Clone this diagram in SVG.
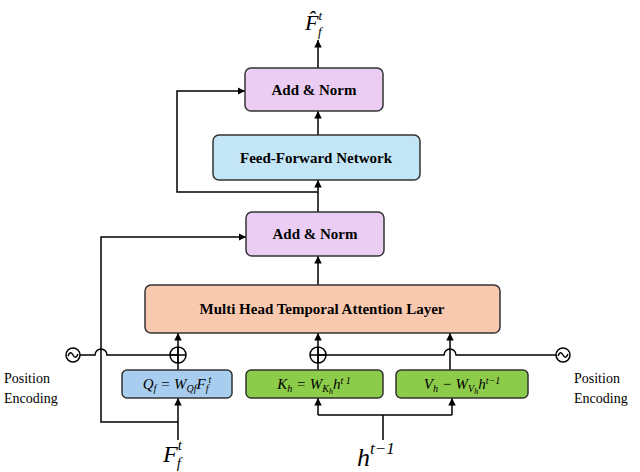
<svg xmlns="http://www.w3.org/2000/svg" width="640" height="472" viewBox="0 0 640 472" font-family="Liberation Serif, Times New Roman, DejaVu Serif, serif">
<defs>
<marker id="a" viewBox="0 0 10 10" refX="10" refY="5" markerWidth="5" markerHeight="5" orient="auto"><path d="M0,0L10,5L0,10z" fill="#000"/></marker>
<style>
.b{stroke:#333;stroke-width:1.5}
.l{fill:none;stroke:#000;stroke-width:1.5}
.t{font-weight:bold;font-size:15px;text-anchor:middle}
.m{font-style:italic;font-size:15px;text-anchor:middle}
.p{font-size:14px}
</style>
</defs>
<g id="connectors" class="l">
<path d="M318,333V256" marker-end="url(#a)"/>
<path d="M318,212V180" marker-end="url(#a)"/>
<path d="M318,135V111" marker-end="url(#a)"/>
<path d="M318,68V40" marker-end="url(#a)"/>
<path d="M318,192H177V91H245" marker-end="url(#a)"/>
<path d="M178,422H101V237H246" marker-end="url(#a)"/>
<path d="M178,440V398" marker-end="url(#a)"/>
<path d="M178,370V333" marker-end="url(#a)"/>
<path d="M318,370V333" marker-end="url(#a)"/>
<path d="M450,370V333" marker-end="url(#a)"/>
<path d="M383,440V415M318,415H452"/>
<path d="M318,415V398" marker-end="url(#a)"/>
<path d="M452,415V398" marker-end="url(#a)"/>
<path d="M80,355H95A6,6 0 0 1 107,355H178"/>
<path d="M318,355H444A6,6 0 0 1 456,355H556"/>
<circle cx="178" cy="355" r="8"/><path d="M170,355H186M178,347V363"/>
<circle cx="318" cy="355" r="8"/><path d="M310,355H326M318,347V363"/>
<circle cx="73" cy="355" r="7"/><path d="M68,356Q70.5,350 73,355T78,354"/>
<circle cx="563" cy="355" r="7"/><path d="M558,356Q560.5,350 563,355T568,354"/>
</g>
<g id="addnorm2"><rect class="b" x="245" y="68" width="138" height="43" rx="6" fill="#EBCDF3"/><text class="t" x="314" y="95">Add &amp; Norm</text></g>
<g id="ffn"><rect class="b" x="213" y="135" width="207" height="45" rx="6" fill="#C3E6F6"/><text class="t" x="316" y="163">Feed-Forward Network</text></g>
<g id="addnorm1"><rect class="b" x="246" y="212" width="138" height="44" rx="6" fill="#EBCDF3"/><text class="t" x="315" y="239">Add &amp; Norm</text></g>
<g id="mhta"><rect class="b" x="145" y="285" width="355" height="48" rx="6" fill="#F8C9AE"/><text class="t" x="322" y="314">Multi Head Temporal Attention Layer</text></g>
<g id="q"><rect class="b" x="122" y="370" width="110" height="28" rx="5" fill="#A8CDEE"/><text class="m" x="177" y="389">Q<tspan font-size="10" dy="3">f</tspan><tspan dy="-3"> = W</tspan><tspan font-size="10" dy="3">Qf</tspan><tspan dy="-3">F</tspan><tspan font-size="10" dy="3">f</tspan><tspan font-size="10" dy="-9">t</tspan></text></g>
<g id="k"><rect class="b" x="246" y="370" width="137" height="28" rx="5" fill="#8DCB4B"/><text class="m" x="314" y="389">K<tspan font-size="10" dy="3">h</tspan><tspan dy="-3"> = W</tspan><tspan font-size="10" dy="3">K</tspan><tspan font-size="8" dy="2">h</tspan><tspan dy="-5">h</tspan><tspan font-size="10" dy="-5">t  1</tspan></text></g>
<g id="v"><rect class="b" x="396" y="370" width="132" height="28" rx="5" fill="#8DCB4B"/><text class="m" x="462" y="389">V<tspan font-size="10" dy="3">h</tspan><tspan dy="-3"> − W</tspan><tspan font-size="10" dy="3">V</tspan><tspan font-size="8" dy="2">h</tspan><tspan dy="-5">h</tspan><tspan font-size="10" dy="-5">t−1</tspan></text></g>
<g id="labels">
<text class="p" x="4" y="383">Position</text><text class="p" x="4" y="403">Encoding</text>
<text class="p" x="574" y="383">Position</text><text class="p" x="574" y="403">Encoding</text>
<text font-style="italic" font-size="24" x="163" y="462">F<tspan font-size="15" dy="-12">t</tspan><tspan font-size="15" dx="-5" dy="18">f</tspan></text>
<text font-style="italic" font-size="26" x="357" y="466">h<tspan font-size="17" dy="-12">t−1</tspan></text>
<text font-style="italic" font-size="22" x="305" y="30">F̂<tspan font-size="13" dy="-10">t</tspan><tspan font-size="13" dx="-4" dy="16">f</tspan></text>
</g>
</svg>
